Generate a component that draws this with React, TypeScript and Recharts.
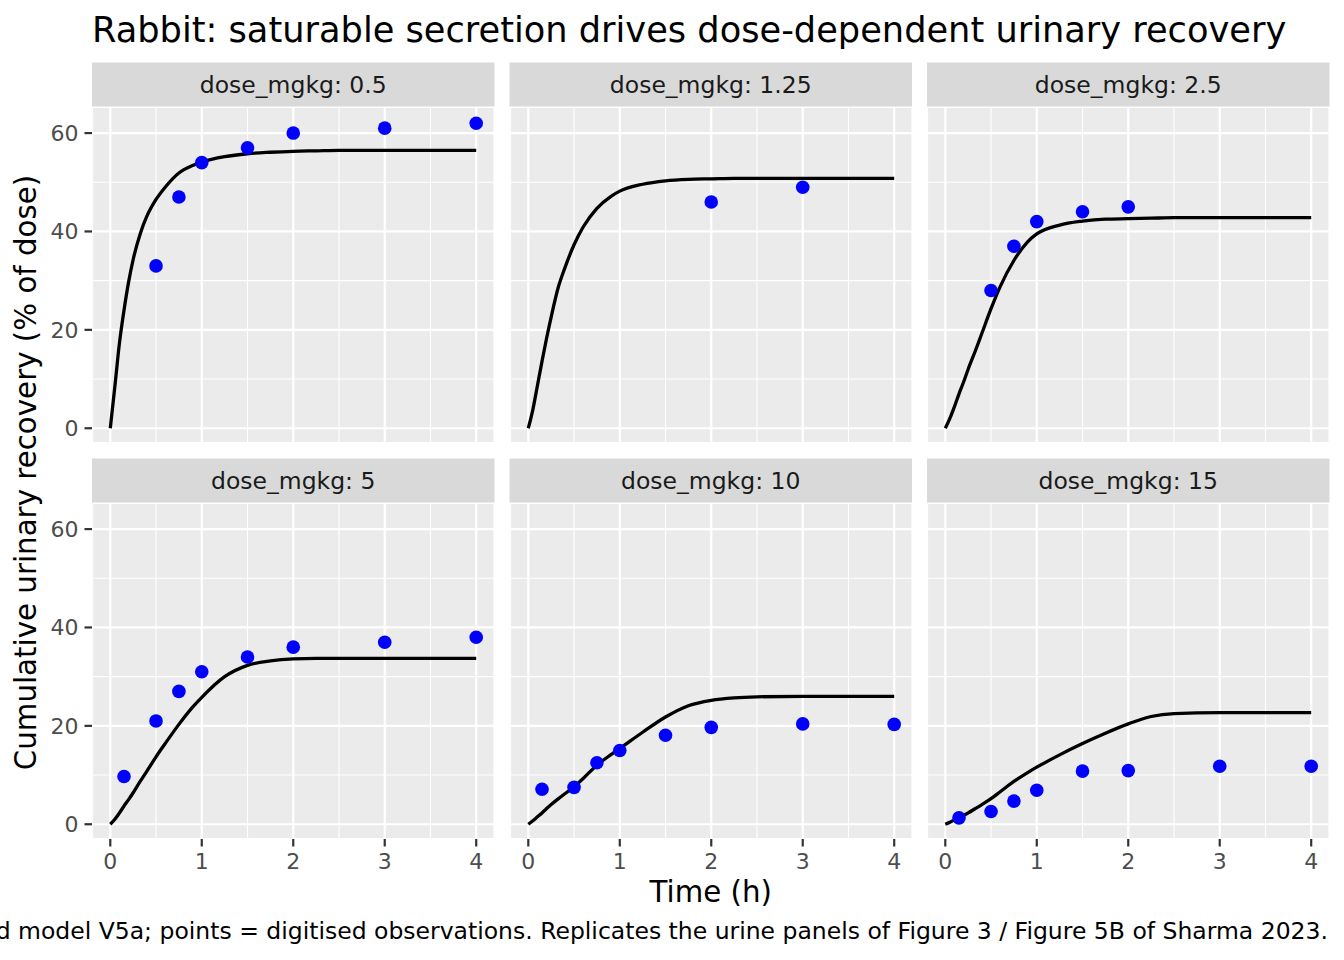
import {
  CartesianGrid,
  ComposedChart,
  Line,
  ReferenceLine,
  Scatter,
  XAxis,
  YAxis,
} from 'recharts';

// Dose facets (mg/kg) of the rabbit urine panels
const doses = ['0.5', '1.25', '2.5', '5', '10', '15'];

// Model curve on a shared time grid (h)
const modelTimes = [
  0, 0.05, 0.1, 0.15, 0.2, 0.25, 0.33, 0.4, 0.5, 0.6, 0.75, 0.9, 1, 1.25, 1.5, 1.75, 2, 2.25, 2.5, 3, 4,
];
const model_0_5 = [
  0, 8.5, 17.3, 24, 29.7, 34.3, 39.7, 43.1, 46.5, 49, 51.9, 53.4, 54.1, 55.2, 55.8, 56.1, 56.3, 56.4, 56.5, 56.5, 56.5,
];
const model_1_25 = [
  0, 3.8, 8.7, 13.6, 18.3, 22.6, 28.8, 32.6, 37.3, 40.9, 44.7, 47.1, 48.2, 49.6, 50.3, 50.6, 50.7, 50.8, 50.8, 50.8, 50.8,
];
const model_2_5 = [
  0, 2, 4.4, 7, 9.4, 12, 15.8, 19.3, 24.3, 28.8, 34.1, 37.9, 39.5, 41.3, 42.1, 42.5, 42.6, 42.7, 42.8, 42.8, 42.8,
];
const model_5 = [
  0, 1, 2.3, 3.7, 5, 6.4, 8.8, 10.8, 13.7, 16.4, 20.3, 23.8, 25.8, 30, 32.3, 33.2, 33.6, 33.7, 33.7, 33.7, 33.7,
];
const model_10 = [
  0, 0.7, 1.5, 2.3, 3.2, 4, 5.2, 6.2, 7.6, 9.3, 12, 14.1, 15.4, 18.7, 21.8, 24.1, 25.2, 25.7, 25.9, 26, 26,
];
const model_15 = [
  0, 0.4, 0.9, 1.4, 1.8, 2.3, 3.2, 4, 5.2, 6.6, 8.7, 10.5, 11.6, 14.1, 16.4, 18.5, 20.4, 21.9, 22.5, 22.7, 22.7,
];

// Digitised observations
const obsTimes_0_5 = [0.5, 0.75, 1, 1.5, 2, 3, 4];
const obs_0_5 = [33, 47, 54, 57, 60, 61, 62];
const obsTimes_1_25 = [2, 3];
const obs_1_25 = [46, 49];
const obsTimes_2_5 = [0.5, 0.75, 1, 1.5, 2];
const obs_2_5 = [28, 37, 42, 44, 45];
const obsTimes_late = [0.15, 0.5, 0.75, 1, 1.5, 2, 3, 4];
const obs_5 = [9.7, 21, 27, 31, 34, 36, 37, 38];
const obs_10 = [7.1, 7.5, 12.5, 15, 18.1, 19.7, 20.4, 20.3];
const obs_15 = [1.3, 2.6, 4.7, 6.9, 10.8, 10.9, 11.8, 11.8];

const xTicks = [0, 1, 2, 3, 4];
const xMinor = [0.5, 1.5, 2.5, 3.5];
const yTicks = [0, 20, 40, 60];
const yMinor = [10, 30, 50];

const modelValues = [model_0_5, model_1_25, model_2_5, model_5, model_10, model_15];
const obsTimes = [obsTimes_0_5, obsTimes_1_25, obsTimes_2_5, obsTimes_late, obsTimes_late, obsTimes_late];
const obsValues = [obs_0_5, obs_1_25, obs_2_5, obs_5, obs_10, obs_15];

const panels = doses.map((dose, i) => ({
  dose,
  curve: modelTimes.map((t, j) => ({ t, v: modelValues[i][j] })),
  obs: obsTimes[i].map((t, j) => ({ t, v: obsValues[i][j] })),
}));

// layout (ggplot facet_wrap look)
const FONT = '"DejaVu Sans", sans-serif';
const COL_LEFT = [92, 509.5, 927];
const ROW_TOP = [106.5, 502.5];
const PW = 402.5;
const PH = 336;
const STRIP_H = 44;
const AXW = 60;
const AXH = 45;

function Panel({ panel, col, row }: { panel: (typeof panels)[number]; col: number; row: number }) {
  const showY = col === 0;
  const showX = row === 1;
  const tickStyle = { fill: '#4D4D4D', fontSize: 22, fontFamily: FONT };
  return (
    <div
      style={{
        position: 'absolute',
        left: COL_LEFT[col] - AXW,
        top: ROW_TOP[row],
      }}
    >
      <ComposedChart
        width={PW + AXW}
        height={PH + AXH}
        margin={{ top: 0, right: 0, left: showY ? 0 : AXW, bottom: showX ? 0 : AXH }}
      >
        <CartesianGrid fill="#EBEBEB" fillOpacity={1} stroke="#FFFFFF" strokeWidth={2.2} />
        {xMinor.map((x) => (
          <ReferenceLine key={`mx${x}`} x={x} stroke="#FFFFFF" strokeWidth={1.1} />
        ))}
        {yMinor.map((y) => (
          <ReferenceLine key={`my${y}`} y={y} stroke="#FFFFFF" strokeWidth={1.1} />
        ))}
        <XAxis
          type="number"
          dataKey="t"
          domain={[-0.2, 4.2]}
          ticks={xTicks}
          hide={!showX}
          height={AXH}
          axisLine={false}
          tickLine={{ stroke: '#333333', strokeWidth: 2.2 }}
          tickSize={7.5}
          tickMargin={6.5}
          tick={tickStyle}
          interval={0}
        />
        <YAxis
          type="number"
          dataKey="v"
          domain={[-3, 65.3]}
          ticks={yTicks}
          hide={!showY}
          width={AXW}
          axisLine={false}
          tickLine={{ stroke: '#333333', strokeWidth: 2.2 }}
          tickSize={7.5}
          tickMargin={6}
          tick={tickStyle}
          interval={0}
        />
        <Line
          data={panel.curve}
          dataKey="v"
          type="monotone"
          stroke="#000000"
          strokeWidth={3.3}
          dot={false}
          activeDot={false}
          isAnimationActive={false}
        />
        <Scatter
          data={panel.obs}
          fill="#0000FF"
          isAnimationActive={false}
          shape={(p: any) => <circle cx={p.cx} cy={p.cy} r={6.8} fill="#0000FF" />}
        />
      </ComposedChart>
    </div>
  );
}

export default function App() {
  return (
    <div
      style={{
        position: 'absolute',
        left: 0,
        top: 0,
        width: 1344,
        height: 960,
        background: '#FFFFFF',
        overflow: 'hidden',
        fontFamily: FONT,
      }}
    >
      {panels.map((p, i) => (
        <Panel key={p.dose} panel={p} col={i % 3} row={Math.floor(i / 3)} />
      ))}
      <svg
        width={1344}
        height={960}
        style={{ position: 'absolute', left: 0, top: 0, pointerEvents: 'none' }}
      >
        {panels.map((p, i) => {
          const x = COL_LEFT[i % 3];
          const y = ROW_TOP[Math.floor(i / 3)] - STRIP_H;
          return (
            <g key={p.dose}>
              <rect x={x} y={y} width={PW} height={STRIP_H} fill="#D9D9D9" />
              <text
                x={x + PW / 2}
                y={y + 30.5}
                textAnchor="middle"
                fontSize={23.5}
                fill="#1A1A1A"
                fontFamily={FONT}
              >
                {`dose_mgkg: ${p.dose}`}
              </text>
            </g>
          );
        })}
        <text x={92} y={41.7} fontSize={35.2} fill="#000000" fontFamily={FONT}>
          Rabbit: saturable secretion drives dose-dependent urinary recovery
        </text>
        <text x={710.75} y={902} textAnchor="middle" fontSize={29.3} fill="#000000" fontFamily={FONT}>
          Time (h)
        </text>
        <text
          x={36}
          y={472.5}
          transform="rotate(-90 36 472.5)"
          textAnchor="middle"
          fontSize={29.3}
          fill="#000000"
          fontFamily={FONT}
        >
          Cumulative urinary recovery (% of dose)
        </text>
        <text x={1328} y={939} textAnchor="end" fontSize={23.5} fill="#000000" fontFamily={FONT}>
          d model V5a; points = digitised observations. Replicates the urine panels of Figure 3 / Figure 5B of Sharma 2023.
        </text>
      </svg>
    </div>
  );
}
